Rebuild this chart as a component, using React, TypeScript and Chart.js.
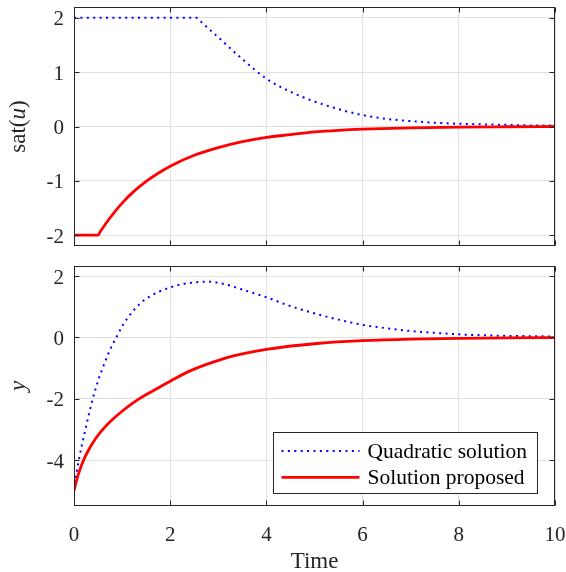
import React, { useEffect, useRef } from 'react';
import { Chart, registerables } from 'chart.js';
Chart.register(...registerables);

// ---------- data ----------
const SERIES_NAMES = ['Quadratic solution', 'Solution proposed'];
const X_TICKS = [0, 2, 4, 6, 8, 10];
const SAT_TICKS = [-2, -1, 0, 1, 2];
const Y_TICKS = [-4, -2, 0, 2];

// top panel: sat(u)
const satQuadT = [0, 1, 2, 2.55, 2.65, 2.85, 3.05, 3.5, 4, 4.5, 5, 5.5, 6, 6.5, 7, 7.5, 8, 8.5, 9, 9.5, 10];
const satQuadV = [2, 2, 2, 2, 1.92, 1.76, 1.6, 1.24, 0.88, 0.64, 0.46, 0.32, 0.21, 0.14, 0.1, 0.07, 0.05, 0.04, 0.03, 0.02, 0.02];
const satPropT = [0, 0.5, 0.55, 0.75, 1, 1.25, 1.5, 1.75, 2, 2.5, 3, 3.5, 4, 4.5, 5, 5.5, 6, 7, 8, 9, 10];
const satPropV = [-2, -2, -1.93, -1.68, -1.41, -1.19, -1.01, -0.86, -0.73, -0.53, -0.39, -0.28, -0.2, -0.15, -0.1, -0.07, -0.05, -0.025, -0.012, -0.005, 0];

// bottom panel: y
const yQuadT = [0, 0.05, 0.1, 0.23, 0.39, 0.5, 0.62, 0.75, 0.88, 1.02, 1.19, 1.37, 1.57, 1.78, 2, 2.2, 2.47, 2.75, 3.1, 3.5, 4, 4.5, 5.1, 5.5, 6, 6.5, 7, 7.5, 8, 8.5, 9, 9.5, 10];
const yQuadV = [-5, -4.45, -4.0, -3.05, -2.0, -1.42, -0.9, -0.4, 0.0, 0.41, 0.79, 1.1, 1.33, 1.5, 1.63, 1.72, 1.79, 1.82, 1.75, 1.56, 1.31, 1.02, 0.74, 0.58, 0.41, 0.3, 0.21, 0.15, 0.1, 0.07, 0.05, 0.04, 0.03];
const yPropT = [0, 0.05, 0.1, 0.18, 0.3, 0.45, 0.6, 0.8, 1.0, 1.2, 1.37, 1.6, 2, 2.4, 3.1, 3.5, 4, 5.1, 6, 7, 8, 9, 10];
const yPropV = [-5, -4.68, -4.42, -4.07, -3.68, -3.3, -3.0, -2.68, -2.41, -2.17, -1.99, -1.78, -1.43, -1.1, -0.7, -0.54, -0.39, -0.19, -0.106, -0.055, -0.029, -0.015, -0.008];

// ---------- style ----------
const FONT = "'Liberation Serif', 'Times New Roman', serif";
const INK = '#262626';
const BLUE = '#0000ff';
const RED = '#ff0000';
const GRID = '#e0e0e0';
const TICK_SIZE = 21;
const LEGEND_SIZE = 21.5;
const TITLE_SIZE = 23;
const BLUE_DASH = [2, 4.4];

const pts = (t: number[], v: number[]) => t.map((x, i) => ({ x, y: v[i] }));

const framePlugin = {
  id: 'frame',
  afterDraw(chart: any) {
    const { ctx, chartArea: a, scales } = chart;
    const l = Math.round(a.left) + 0.5;
    const r = Math.round(a.right) - 0.5;
    const t = Math.round(a.top) + 0.5;
    const b = Math.round(a.bottom) - 0.5;
    ctx.save();
    ctx.strokeStyle = INK;
    ctx.lineWidth = 1;
    ctx.strokeRect(l, t, r - l, b - t);
    ctx.beginPath();
    const tl = 5;
    for (const tk of scales.x.ticks) {
      const px = Math.round(scales.x.getPixelForValue(tk.value)) + 0.5;
      ctx.moveTo(px, b); ctx.lineTo(px, b - tl);
      ctx.moveTo(px, t); ctx.lineTo(px, t + tl);
    }
    for (const tk of scales.y.ticks) {
      const py = Math.round(scales.y.getPixelForValue(tk.value)) + 0.5;
      ctx.moveTo(l, py); ctx.lineTo(l + tl, py);
      ctx.moveTo(r, py); ctx.lineTo(r - tl, py);
    }
    ctx.stroke();
    ctx.restore();
  },
};

function makeYTitle(parts: { text: string; italic?: boolean }[], x: number) {
  return {
    id: 'yTitle',
    afterDraw(chart: any) {
      const { ctx, chartArea: a } = chart;
      ctx.save();
      const fonts = parts.map(p => `${p.italic ? 'italic ' : ''}${TITLE_SIZE}px ${FONT}`);
      const widths = parts.map((p, i) => { ctx.font = fonts[i]; return ctx.measureText(p.text).width; });
      const total = widths.reduce((s, w) => s + w, 0);
      ctx.translate(x, (a.top + a.bottom) / 2);
      ctx.rotate(-Math.PI / 2);
      ctx.textBaseline = 'middle';
      ctx.textAlign = 'left';
      ctx.fillStyle = INK;
      let cx = -total / 2;
      parts.forEach((p, i) => { ctx.font = fonts[i]; ctx.fillText(p.text, cx, 0); cx += widths[i]; });
      ctx.restore();
    },
  };
}

function makeXTitle(text: string, baselineFromBottom: number) {
  return {
    id: 'xTitle',
    afterDraw(chart: any) {
      const { ctx, chartArea: a, height } = chart;
      ctx.save();
      ctx.font = `${TITLE_SIZE}px ${FONT}`;
      ctx.fillStyle = INK;
      ctx.textAlign = 'center';
      ctx.textBaseline = 'alphabetic';
      ctx.fillText(text, (a.left + a.right) / 2, height - baselineFromBottom);
      ctx.restore();
    },
  };
}

const legendPlugin = {
  id: 'boxLegend',
  afterDraw(chart: any) {
    const { ctx, chartArea: a } = chart;
    const ds = chart.data.datasets;
    ctx.save();
    ctx.font = `${LEGEND_SIZE}px ${FONT}`;
    const textW = Math.max(...ds.map((d: any) => ctx.measureText(d.label).width));
    const padL = 8, sample = 78, gap = 8, padR = 11, rowH = 26.3;
    const w = padL + sample + gap + textW + padR;
    const h = 61;
    const right = Math.round(a.right - 18) + 0.5;
    const bottom = Math.round(a.bottom - 13) + 0.5;
    const left = Math.round(right - w) + 0.5;
    const top = bottom - h;
    ctx.fillStyle = '#ffffff';
    ctx.fillRect(left, top, right - left, h);
    ctx.strokeStyle = INK;
    ctx.lineWidth = 1;
    ctx.strokeRect(left, top, right - left, h);
    ds.forEach((d: any, i: number) => {
      const cy = top + 18.5 + i * rowH;
      ctx.save();
      ctx.strokeStyle = d.borderColor;
      ctx.lineWidth = d.borderWidth;
      ctx.setLineDash(d.borderDash || []);
      ctx.beginPath();
      ctx.moveTo(left + padL, cy);
      ctx.lineTo(left + padL + sample, cy);
      ctx.stroke();
      ctx.restore();
      ctx.fillStyle = '#000000';
      ctx.textAlign = 'left';
      ctx.textBaseline = 'middle';
      ctx.fillText(d.label, left + padL + sample + gap, cy + 1);
    });
    ctx.restore();
  },
};

function baseDatasets(qT: number[], qV: number[], pT: number[], pV: number[]) {
  return [
    {
      label: SERIES_NAMES[0], data: pts(qT, qV), borderColor: BLUE, borderWidth: 2,
      borderDash: BLUE_DASH, pointRadius: 0, fill: false, cubicInterpolationMode: 'monotone', order: 1,
    },
    {
      label: SERIES_NAMES[1], data: pts(pT, pV), borderColor: RED, borderWidth: 2.8,
      pointRadius: 0, fill: false, cubicInterpolationMode: 'monotone', order: 0,
    },
  ];
}

const zeroPad = (s: any) => { s.paddingTop = 0; s.paddingBottom = 0; s.paddingLeft = 0; s.paddingRight = 0; };

function makeConfig(opts: {
  datasets: any[]; yMin: number; yMax: number; yTicks: number[]; showX: boolean;
  xHeight: number; padTop: number; plugins: any[];
}) {
  return {
    type: 'line',
    data: { datasets: opts.datasets },
    options: {
      animation: false,
      responsive: false,
      maintainAspectRatio: false,
      layout: { padding: { top: opts.padTop, right: 11, left: 0, bottom: 0 } },
      plugins: { legend: { display: false }, tooltip: { enabled: false } },
      scales: {
        x: {
          type: 'linear', min: 0, max: 10,
          afterBuildTicks: (s: any) => { s.ticks = X_TICKS.map(v => ({ value: v })); },
          afterFit: (s: any) => { s.height = opts.xHeight; zeroPad(s); },
          ticks: { display: opts.showX, color: INK, font: { family: FONT, size: TICK_SIZE }, padding: 17, maxRotation: 0 },
          grid: { color: GRID, drawTicks: false },
          border: { display: false },
        },
        y: {
          type: 'linear', min: opts.yMin, max: opts.yMax,
          afterBuildTicks: (s: any) => { s.ticks = opts.yTicks.map(v => ({ value: v })); },
          afterFit: (s: any) => { s.width = 74; zeroPad(s); },
          ticks: { color: INK, font: { family: FONT, size: TICK_SIZE }, padding: 10, labelOffset: 2 },
          grid: { color: GRID, drawTicks: false },
          border: { display: false },
        },
      },
    },
    plugins: opts.plugins,
  };
}

function Panel({ config, width, height, top }: { config: any; width: number; height: number; top: number }) {
  const ref = useRef<HTMLCanvasElement | null>(null);
  useEffect(() => {
    if (!ref.current) return;
    const chart = new Chart(ref.current, config);
    return () => chart.destroy();
  }, []);
  return (
    <canvas
      ref={ref}
      width={width}
      height={height}
      style={{ position: 'absolute', left: 0, top, width, height, display: 'block' }}
    />
  );
}

export default function App() {
  const topCfg = makeConfig({
    datasets: baseDatasets(satQuadT, satQuadV, satPropT, satPropV),
    yMin: -2.2, yMax: 2.2, yTicks: SAT_TICKS, showX: false, xHeight: 10, padTop: 7,
    plugins: [framePlugin, makeYTitle([{ text: 'sat(' }, { text: 'u', italic: true }, { text: ')' }], 19)],
  });
  const botCfg = makeConfig({
    datasets: baseDatasets(yQuadT, yQuadV, yPropT, yPropV),
    yMin: -5.5, yMax: 2.33, yTicks: Y_TICKS, showX: true, xHeight: 66, padTop: 10,
    plugins: [framePlugin, legendPlugin, makeYTitle([{ text: 'y', italic: true }], 19), makeXTitle('Time', 4)],
  });
  return (
    <div style={{ position: 'fixed', left: 0, top: 0, width: 566, height: 572, background: '#ffffff' }}>
      <Panel config={topCfg} width={566} height={256} top={0} />
      <Panel config={botCfg} width={566} height={316} top={256} />
    </div>
  );
}
